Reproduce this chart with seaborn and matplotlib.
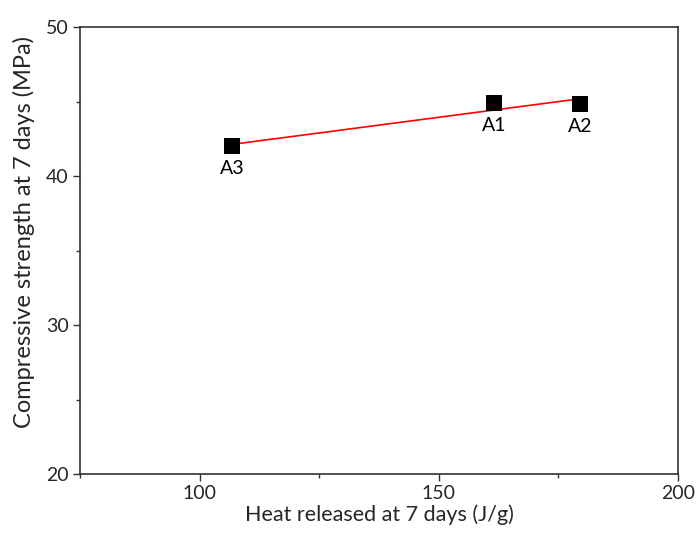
import matplotlib
matplotlib.use("Agg")
import matplotlib.pyplot as plt
import seaborn as sns
import pandas as pd
from matplotlib.ticker import MultipleLocator

labels = ["A1", "A2", "A3"]
heat = [161.5, 179.5, 106.8]
strength = [44.92, 44.81, 42.0]

df = pd.DataFrame({"heat": heat, "strength": strength, "label": labels})

sns.set_style("ticks")
plt.rcParams['font.family'] = ['Lato', 'DejaVu Sans']

fig = plt.figure(figsize=(6.96, 5.36), dpi=100)
ax = fig.add_axes([80/696, 1-474/536, 598/696, 447/536])

sns.regplot(data=df, x="heat", y="strength", scatter=False, ci=None,
            truncate=True, color="red", line_kws={"linewidth": 1.2}, ax=ax)
sns.scatterplot(data=df, x="heat", y="strength", marker="s", s=130,
                color="black", edgecolor="black", linewidth=0, ax=ax, zorder=3)

for lab, xv, yv in zip(labels, heat, strength):
    ax.annotate(lab, (xv, yv), xytext=(0, -10), textcoords="offset points",
                ha="center", va="top", fontsize=14, color="black")

ax.set_xlim(75, 200)
ax.set_ylim(20, 50)
ax.xaxis.set_major_locator(MultipleLocator(50))
ax.xaxis.set_minor_locator(MultipleLocator(25))
ax.yaxis.set_major_locator(MultipleLocator(10))
ax.yaxis.set_minor_locator(MultipleLocator(5))
ax.tick_params(which="major", direction="out", length=5, width=1, labelsize=14,
               color="#333333", pad=3)
ax.tick_params(which="minor", direction="out", length=3, width=1, color="#333333")
for sp in ax.spines.values():
    sp.set_visible(True)
    sp.set_color("#333333")
    sp.set_linewidth(1.2)

ax.set_xlabel("Heat released at 7 days (J/g)", fontsize=15.5, labelpad=2)
ax.set_ylabel("Compressive strength at 7 days (MPa)", fontsize=17)
ax.yaxis.set_label_coords(-0.076, 0.541)

fig.savefig("out.png", dpi=100)
